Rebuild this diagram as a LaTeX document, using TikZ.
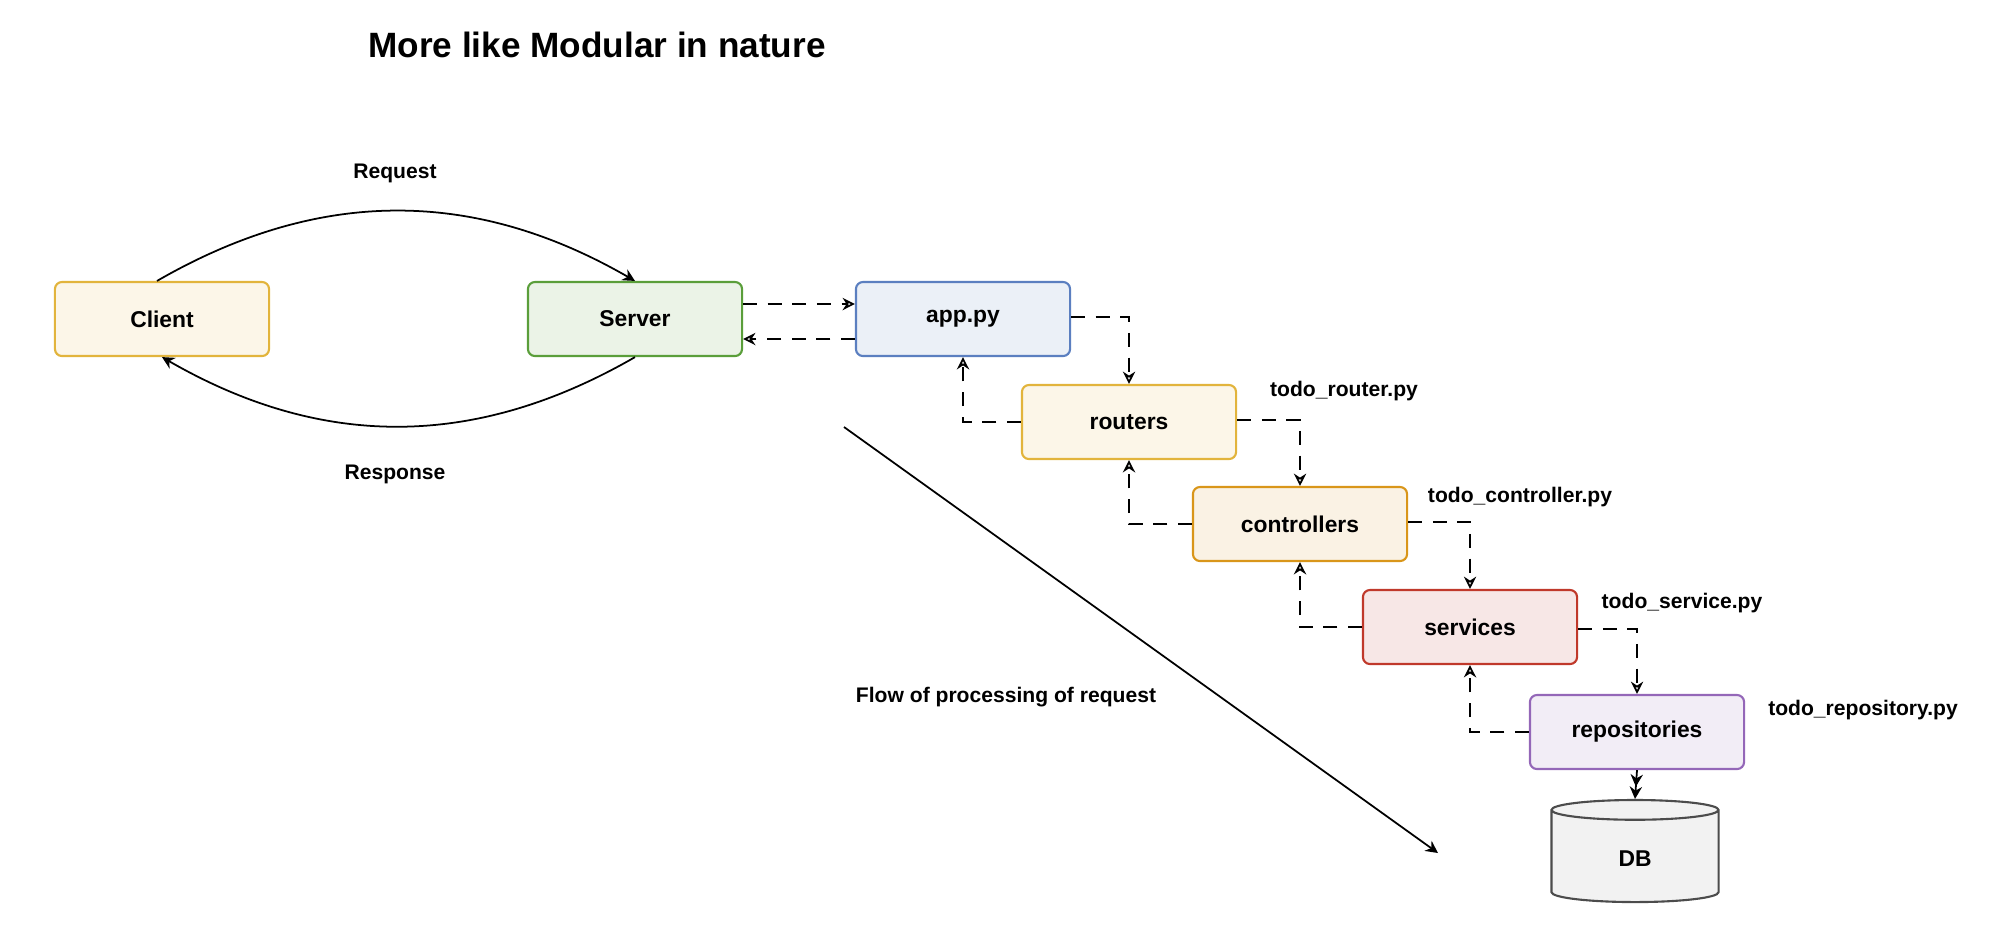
\documentclass[tikz,border=0pt]{standalone}
\usepackage{fontspec}
\setmainfont{Liberation Sans}
\usetikzlibrary{calc,arrows.meta,shapes.geometric}
\definecolor{cy}{HTML}{E2B43C}
\definecolor{cg}{HTML}{5A9E3A}
\definecolor{cb}{HTML}{5B7FC0}
\definecolor{co}{HTML}{D9961A}
\definecolor{cr}{HTML}{C0392B}
\definecolor{cp}{HTML}{9467B8}
\begin{document}
\begin{tikzpicture}[x=0.01cm,y=-0.01cm,
  box/.style={draw=#1,fill=#1!12,line width=0.6pt,rounded corners=2pt,minimum width=2.14cm,minimum height=0.74cm,font=\fontsize{6.5}{8}\selectfont\bfseries},
  lbl/.style={font=\fontsize{6}{7}\selectfont\bfseries},
  dsh/.style={draw=black,line width=0.5pt,dash pattern=on 4pt off 3pt,-{Stealth[open,length=3.5pt,width=3.5pt]}},
  sol/.style={draw=black,line width=0.5pt,-{Stealth[length=3.5pt,width=3.5pt]}}]
\useasboundingbox (0,0) rectangle (2000,947);
\node[font=\fontsize{10}{12}\selectfont\bfseries] (title) at (597,45) {More like Modular in nature};
\node[box=cy] (client) at (162,319) {Client};
\node[box=cg] (server) at (635,319) {Server};
\node[box=cb] (app) at (963,319) {app.py};
\node[box=cy] (routers) at (1129,422) {routers};
\node[box=co] (ctrl) at (1300,524) {controllers};
\node[box=cr] (serv) at (1470,627) {services};
\node[box=cp] (repo) at (1637,732) {repositories};
\node[cylinder,shape border rotate=90,aspect=0.35,draw=black!70,fill=black!5,line width=0.6pt,minimum width=1.67cm,minimum height=1.02cm,font=\fontsize{6.5}{8}\selectfont\bfseries] (db) at (1635,859) {DB};
\node[lbl] (l1) at (1344,391) {todo\_router.py};
\node[lbl] (l2) at (1520,497) {todo\_controller.py};
\node[lbl] (l3) at (1682,603) {todo\_service.py};
\node[lbl] (l4) at (1863,710) {todo\_repository.py};
\node[lbl] (req) at (395,173) {Request};
\node[lbl] (resp) at (395,474) {Response};
\node[lbl] (flow) at (1006,697) {Flow of processing of request};
\coordinate (f1) at (844,427);
\coordinate (f2) at (1438,853);
\draw[sol] (f1) -- (f2);
\draw[sol] ($(client.north)+(-5,0)$) to[out=30,in=150] ($(server.north)+(0,0)$);
\draw[sol] ($(server.south)+(0,0)$) to[out=210,in=330] ($(client.south)+(0,0)$);
\draw[dsh] ($(server.east)+(0,-15)$) -- ($(app.west)+(0,-15)$);
\draw[dsh] ($(app.west)+(0,20)$) -- ($(server.east)+(0,20)$);
\draw[dsh] ($(app.east)+(0,-2)$) -| (routers.north);
\draw[dsh] (routers.west) -| (app.south);
\draw[dsh] ($(routers.east)+(0,-2)$) -| (ctrl.north);
\draw[dsh] (ctrl.west) -| (routers.south);
\draw[dsh] ($(ctrl.east)+(0,-2)$) -| (serv.north);
\draw[dsh] (serv.west) -| (ctrl.south);
\draw[dsh] ($(serv.east)+(0,2)$) -| (repo.north);
\draw[dsh] (repo.west) -| (serv.south);
\draw[draw=black,line width=0.5pt,-{Stealth[length=3.5pt,width=3.5pt]Stealth[length=3.5pt,width=3.5pt]}] (repo.south) -- (db.top);
\end{tikzpicture}
\end{document}
